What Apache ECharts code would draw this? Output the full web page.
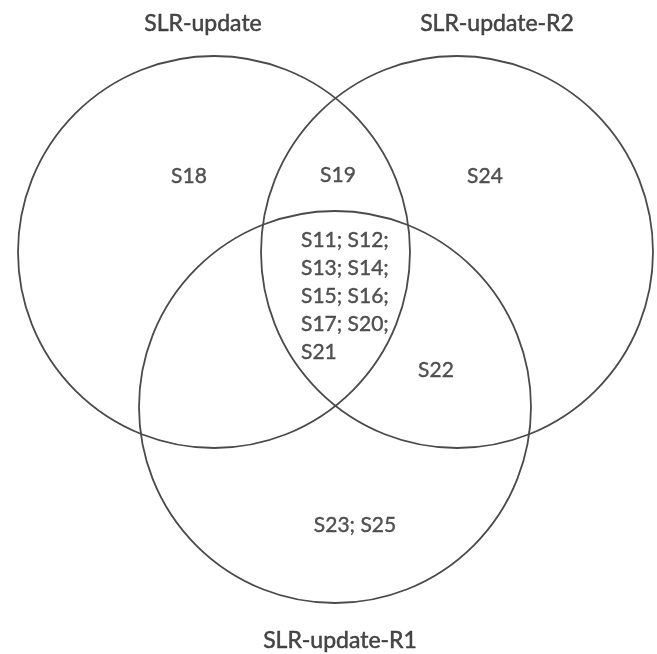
<!DOCTYPE html>
<html>
<head>
<meta charset="utf-8">
<script src="https://cdn.jsdelivr.net/npm/echarts@6/dist/echarts.min.js"></script>
<style>
  html, body { margin: 0; padding: 0; background: #fff; }
  #main { width: 657px; height: 654px; }
</style>
</head>
<body>
<div id="main"></div>
<script>
// 三个集合（圆）
var setNames = ['SLR-update', 'SLR-update-R2', 'SLR-update-R1'];
var circleX = [214, 457, 335];
var circleY = [252, 252, 407];
var circleR = [196, 196, 196];
// 集合标题位置
var titleX = [203, 497, 340];
var titleY = [24, 24, 641];
// 各区域的研究编号
var regionText = ['S18', 'S19', 'S24', 'S11; S12;\nS13; S14;\nS15; S16;\nS17; S20;\nS21', 'S22', 'S23; S25'];
var regionX = [189, 338, 485, 301, 436, 355];
var regionY = [176, 175, 176, 296, 370, 525];

(function () {
  var myChart = echarts.init(document.getElementById('main'));
  var textColor = '#2b2b2b';
  var font = 'Lato';

  var circleData = circleX.map(function (x, i) {
    return { name: setNames[i], value: [x, circleY[i], circleR[i]] };
  });
  var titleData = titleX.map(function (x, i) {
    return { name: setNames[i], value: [x, titleY[i]] };
  });
  var regionData = regionX.map(function (x, i) {
    var item = { name: regionText[i], value: [x, regionY[i]] };
    // 中间那块是左对齐的多行文字
    if (regionText[i].indexOf('\n') >= 0) {
      item.label = { position: 'right', distance: 0, align: 'left' };
    }
    return item;
  });

  var option = {
    animation: false,
    grid: { left: 0, right: 0, top: 0, bottom: 0 },
    xAxis: { type: 'value', min: 0, max: 657, show: false },
    yAxis: { type: 'value', min: 0, max: 654, inverse: true, show: false },
    series: [
      {
        type: 'custom',
        data: circleData,
        renderItem: function (params, api) {
          var c = api.coord([api.value(0), api.value(1)]);
          var r = api.size([api.value(2), 0])[0];
          return {
            type: 'circle',
            shape: { cx: c[0], cy: c[1], r: r },
            style: { fill: 'none', stroke: '#4a4a4a', lineWidth: 1.8 }
          };
        }
      },
      {
        type: 'scatter',
        symbolSize: 0,
        data: titleData,
        label: {
          show: true,
          position: 'inside',
          formatter: function (p) { return p.name; },
          color: '#1a1a1a',
          textBorderColor: '#1a1a1a',
          textBorderWidth: 0.5,
          fontFamily: font,
          fontSize: 23
        }
      },
      {
        type: 'scatter',
        symbolSize: 0,
        data: regionData,
        label: {
          show: true,
          position: 'inside',
          formatter: function (p) { return p.name; },
          color: textColor,
          textBorderColor: textColor,
          textBorderWidth: 0.4,
          fontFamily: font,
          fontSize: 21,
          lineHeight: 28
        }
      }
    ]
  };
  myChart.setOption(option);
})();
</script>
</body>
</html>
